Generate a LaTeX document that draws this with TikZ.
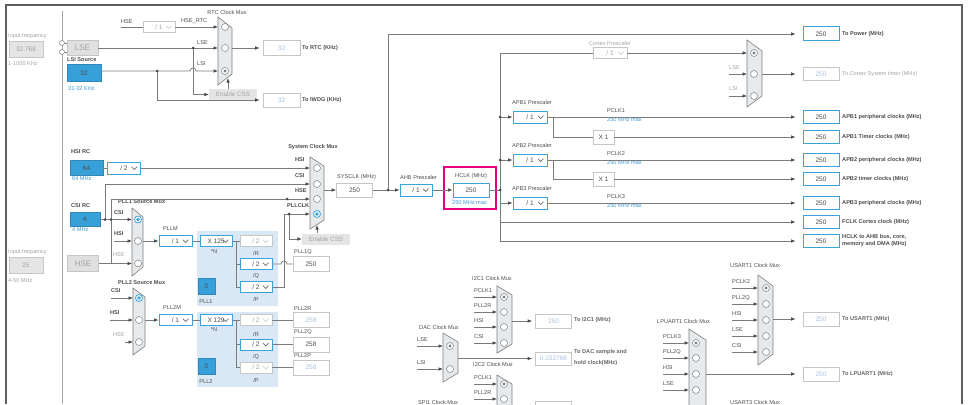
\documentclass[tikz,border=0pt]{standalone}
\usepackage{fontspec}
\setmainfont{Liberation Sans}
\usetikzlibrary{arrows.meta}

\definecolor{wirec}{HTML}{7B7B7B}
\definecolor{tipc}{HTML}{4A4A4A}
\definecolor{blueb}{HTML}{3BA3DC}
\definecolor{bluef}{HTML}{38A0D8}
\definecolor{bluet}{HTML}{3C9AD5}
\definecolor{labc}{HTML}{4D4D4D}
\definecolor{greyb}{HTML}{C6C6C6}
\definecolor{greyt}{HTML}{A4A4A4}
\definecolor{muxf}{HTML}{E6EAED}
\definecolor{muxd}{HTML}{7E7E7E}
\definecolor{pllbg}{HTML}{DAE8F5}
\definecolor{hil}{HTML}{E5007E}
\definecolor{offt}{HTML}{A8C4E2}
\definecolor{framec}{HTML}{5F5F5F}

% mux body: name, left x, top y, bottom y, width, slope
\newcommand{\clkmux}[6]{%
  \draw[muxbody] (#2,#3) -- (#2+#5,#3+#6) -- (#2+#5,#4-#6) -- (#2,#4) -- cycle;
  \coordinate (#1) at (#2,#3);
  \coordinate (#1-r) at (#2+#5,#3);}
\newcommand{\jdot}[1]{\fill[tipc] (#1) circle (1.5pt);}

\begin{document}
\begin{tikzpicture}
                \tikzset{x=1pt, y=-1pt}
                \tikzstyle{wire}=[draw=wirec, line width=0.7pt]
                \tikzstyle{arr}=[wire, -{Latex[length=4.5pt,width=3.6pt,color=tipc]}]
                \tikzstyle{tobox}=[arr, shorten >=3pt]
                \tikzstyle{toout}=[arr, shorten >=7pt]
                \tikzstyle{lbl}=[inner sep=0pt, anchor=west, text=labc, font=\fontsize{5.6}{6.6}\selectfont]
                \tikzstyle{lblb}=[lbl, font=\fontsize{5.6}{6.6}\selectfont\bfseries]
                \tikzstyle{lblg}=[lbl, text=greyt]
                \tikzstyle{lblbl}=[lbl, text=bluet]
                \tikzstyle{ctr}=[lbl, anchor=center]
                \tikzstyle{outl}=[lblb, text=black!60]
                \tikzstyle{val}=[rectangle, draw=greyb, line width=0.7pt, fill=white, minimum width=36pt, minimum height=14pt, inner sep=0pt, text=labc, font=\fontsize{6.5}{7.5}\selectfont]
                \tikzstyle{valon}=[val, draw=blueb, line width=1pt]
                \tikzstyle{valoff}=[val, text=offt]
                \tikzstyle{presc}=[rectangle, draw=blueb, line width=1pt, fill=white, minimum width=33pt, minimum height=11pt, inner sep=0pt, text=labc, font=\fontsize{6.5}{7.5}\selectfont,
                    path picture={\draw[labc, line width=0.5pt] ([xshift=-9pt,yshift=1.3pt]path picture bounding box.east) -- ++(2.8pt,-2.8pt) -- ++(2.8pt,2.8pt);}]
                \tikzstyle{prescoff}=[presc, draw=greyb, line width=0.7pt, text=greyt,
                    path picture={\draw[greyb, line width=0.5pt] ([xshift=-9pt,yshift=1.3pt]path picture bounding box.east) -- ++(2.8pt,-2.8pt) -- ++(2.8pt,2.8pt);}]
                \tikzstyle{srcbox}=[rectangle, draw=greyb, fill=black!12, text=greyt, minimum width=31pt, minimum height=15pt, inner sep=0pt, font=\fontsize{8}{9}\selectfont]
                \tikzstyle{infbox}=[rectangle, draw=greyb, fill=black!10, text=greyt, minimum width=34pt, minimum height=16pt, inner sep=0pt, font=\fontsize{6.5}{7.5}\selectfont]
                \tikzstyle{rc}=[rectangle, draw=bluef!85!black, fill=bluef, text=labc, minimum height=15pt, inner sep=0pt, font=\fontsize{6.5}{7.5}\selectfont]
                \tikzstyle{css}=[rectangle, fill=black!10, text=greyt, minimum width=48pt, minimum height=11pt, inner sep=0pt, font=\fontsize{6.3}{7.3}\selectfont]
                \tikzstyle{muxbody}=[draw=muxd, fill=muxf, line width=0.6pt]
                \tikzstyle{circ}=[circle, draw=muxd, fill=white, line width=0.5pt, minimum size=7pt, inner sep=0pt]
                \tikzstyle{selg}=[circ, path picture={\fill[muxd] (path picture bounding box.center) circle (1.6pt);}]
                \tikzstyle{selb}=[circ, draw=blueb, line width=0.8pt, path picture={\fill[blueb] (path picture bounding box.center) circle (1.8pt);}]

                \useasboundingbox (0,0) rectangle (973,404);
                \clip (0,0) rectangle (973,404);
                \fill[white] (0,0) rectangle (973,404);
                \draw[framec, line width=2pt] (6,404) -- (6,5) -- (962,5) -- (962,404);
                \draw[black!35, line width=1pt] (62,11) -- (62,404);

                % input frequencies
                \draw (8,36)      node[lblg]    (inf1)    {Input frequency};
                \draw (26,49)     node[infbox]  (lsefq)   {32.768};
                \draw (8,64)      node[lblg]    (lserng)  {1-1000 KHz};
                \draw (8,252)     node[lblg]    (inf2)    {Input frequency};
                \draw (26,265)    node[infbox]  (hsefq)   {25};
                \draw (8,281)     node[lblg]    (hserng)  {4-50 MHz};

                % LSE, LSI and RTC mux
                \draw (62,43)     node[circ, minimum size=5pt] (lsep1) {};
                \draw (62,52)     node[circ, minimum size=5pt] (lsep2) {};
                \draw (82.5,48)   node[srcbox]  (lse)     {LSE};
                \draw (67,60)     node[lblb]    (lsisrc)  {LSI Source};
                \draw (84,73)     node[rc, minimum width=34pt, minimum height=17pt] (lsi) {32};
                \draw (68,89)     node[lblbl]   (lsirng)  {31-32 KHz};
                \draw[wire] (lsep1) -- (lsep1 -| lse.west);
                \draw[wire] (lsep2) -- (lsep2 -| lse.west);

                \draw (227,12)    node[ctr]     (rtct)    {RTC Clock Mux};
                \clkmux{rtcm}{218}{17}{85}{14}{11}
                \draw (225,27)    node[circ]    (rtc1)    {};
                \draw (225,48)    node[circ]    (rtc2)    {};
                \draw (225,71)    node[selg]    (rtc3)    {};
                \draw (121,22)    node[lbl]     (hsel)    {HSE};
                \draw (159,27)    node[prescoff, minimum width=32pt] (rtcdiv) {/ 1\hspace{8pt}};
                \draw (181,21)    node[lbl]     (hsertc)  {HSE\_RTC};
                \draw (197,43)    node[lbl]     (lsel)    {LSE};
                \draw (197,64)    node[lbl]     (lsil)    {LSI};
                \draw (233,94.5)  node[css]     (css1)    {Enable CSS};
                \draw (281.5,48)  node[valoff, minimum width=37pt, minimum height=15pt] (rtco) {32};
                \draw (281.5,100) node[valoff, minimum width=37pt] (iwdg) {32};
                \draw (302,48)    node[lblb]    (rtcol)   {To RTC (KHz)};
                \draw (302,100)   node[lblb]    (iwdgl)   {To IWDG (KHz)};
                \coordinate (lsej) at (193,48);
                \coordinate (lsij) at (157,71);
                \coordinate (rtcb) at (228,78);
                \draw[wire] (hsel.west |- rtcdiv.west) -- (rtcdiv.west);
                \draw[arr] (rtcdiv.east) -- (rtc1 -| rtcm);
                \draw[arr] (lse.east |- rtc2) -- (rtc2 -| rtcm);
                \draw[arr] (lsi.east |- rtc3) -- (190,71) arc (180:360:3) -- (rtc3 -| rtcm);
                \draw[arr] (lsej) |- (css1.west);
                \draw[tobox] (lsij) |- (iwdg.west);
                \draw[tobox] (rtco.west -| rtcm-r) -- (rtco.west);
                \draw[arr] (css1.north -| rtcb) -- (rtcb);
                \jdot{lsej} \jdot{lsij}

                % HSI, CSI, HSE
                \draw (71,152)    node[lblb]    (hsirc)   {HSI RC};
                \draw (86.5,168)  node[rc, minimum width=33pt] (hsi) {64};
                \draw (72,179)    node[lblbl]   (hsimhz)  {64 MHz};
                \draw (124,168)   node[presc, minimum height=12pt] (hsidiv) {/ 2\hspace{8pt}};
                \draw (71,206)    node[lblb]    (csirc)   {CSI RC};
                \draw (85,219.5)  node[rc, minimum width=30pt, minimum height=14pt] (csi) {4};
                \draw (72,230)    node[lblbl]   (csimhz)  {4 MHz};
                \draw (83,263.5)  node[srcbox, minimum height=16pt] (hse) {HSE};
                \draw[wire] (hsi) -- (hsidiv);

                % system clock mux
                \draw (313,147)   node[ctr, font=\fontsize{5.6}{6.6}\selectfont\bfseries] (syst) {System Clock Mux};
                \clkmux{sysm}{310}{157}{229}{14}{9}
                \draw (317,168)   node[circ]    (sys1)    {};
                \draw (317,184)   node[circ]    (sys2)    {};
                \draw (317,199)   node[circ]    (sys3)    {};
                \draw (317,214)   node[selb]    (sys4)    {};
                \draw (295,160)   node[lblb]    (sysl1)   {HSI};
                \draw (295,176)   node[lblb]    (sysl2)   {CSI};
                \draw (295,191)   node[lblb]    (sysl3)   {HSE};
                \draw (287,206)   node[lblb]    (sysl4)   {PLLCLK};

                % PLL1 source mux
                \draw (118,202)   node[lblb]    (pll1t)   {PLL1 Source Mux};
                \clkmux{pll1m}{132}{208}{276}{11}{9}
                \draw (138,219.5) node[selb]    (pl1c1)   {};
                \draw (138,241)   node[circ]    (pl1c2)   {};
                \draw (138,263.5) node[circ]    (pl1c3)   {};
                \draw (114,213)   node[lblb]    (pl1l1)   {CSI};
                \draw (114,234)   node[lblb]    (pl1l2)   {HSI};
                \draw (113,255)   node[lblg]    (pl1l3)   {HSE};
                \coordinate (csij1) at (105,219.5);
                \coordinate (csij2) at (111,219.5);
                \coordinate (hsej)  at (111,263.5);
                \coordinate (hsed)  at (287,199);
                \draw[arr] (hsidiv.east) -- (sys1 -| sysm);
                \draw[arr] (csi.east) -- (pl1c1 -| pll1m);
                \draw[arr] (csij1) |- (sys2 -| sysm);
                \draw[arr] (hse.east) -- (pl1c3 -| pll1m);
                \draw[arr] (hsej) |- (sys3 -| sysm);
                \draw[arr] (pl1l2.west |- pl1c2) -- (pl1c2 -| pll1m);
                \jdot{csij1} \jdot{csij2} \jdot{hsed}

                % PLL1
                \fill[pllbg] (197,231) rectangle (278,306);
                \draw (163,229)   node[lbl]     (pllml)   {PLLM};
                \draw (175.5,241) node[presc]   (pllm)    {/ 1\hspace{8pt}};
                \draw (216,241)   node[presc, minimum width=32pt] (n1) {X 125\hspace{10pt}};
                \draw (214,252)   node[ctr]     (n1l)     {*N};
                \draw (256,241)   node[prescoff, minimum width=32pt] (r1) {/ 2\hspace{8pt}};
                \draw (256,264)   node[presc, minimum width=32pt] (q1) {/ 2\hspace{8pt}};
                \draw (256,287)   node[presc, minimum width=32pt] (p1) {/ 2\hspace{8pt}};
                \draw (256,253)   node[ctr]     (r1l)     {/R};
                \draw (256,276)   node[ctr]     (q1l)     {/Q};
                \draw (256,299)   node[ctr]     (p1l)     {/P};
                \draw (206.5,286) node[rc, minimum width=17pt, minimum height=16pt] (pll1on) {0};
                \draw (206,302)   node[ctr]     (pll1l)   {PLL1};
                \draw (311,264)   node[val, minimum height=15pt] (pll1q) {250};
                \draw (294,252)   node[lbl]     (pll1ql)  {PLL1Q};
                \draw (326,239)   node[css]     (css2)    {Enable CSS};
                \coordinate (n1j)  at (236,241);
                \coordinate (pcol) at (284,214);
                \coordinate (cssj) at (289,214);
                \coordinate (sysb) at (317,225);
                \draw[arr] (pl1c2 -| pll1m-r) -- (pllm.west);
                \draw[wire] (pllm.east) -- (n1.west);
                \draw[wire] (n1.east) -- (r1.west);
                \draw[wire] (n1j) |- (p1.west);
                \draw[wire] (n1j |- q1) -- (q1.west);
                \draw[wire] (q1.east) -- (281,264) arc (180:360:3) -- (pll1q.west);
                \draw[arr] (p1.east) -| (pcol) -- (sys4 -| sysm);
                \draw[arr] (cssj) |- (css2.west);
                \draw[arr] (css2.north -| sysb) -- (sysb);
                \jdot{cssj}

                % PLL2 source mux
                \draw (118,283)   node[lblb]    (pll2t)   {PLL2 Source Mux};
                \clkmux{pll2m}{133}{288}{355}{12}{9}
                \draw (139,298)   node[selb]    (pl2c1)   {};
                \draw (139,320)   node[circ]    (pl2c2)   {};
                \draw (139,342)   node[circ]    (pl2c3)   {};
                \draw (111,291)   node[lblb]    (pl2l1)   {CSI};
                \draw (110,313)   node[lblb]    (pl2l2)   {HSI};
                \draw (113,335)   node[lblg]    (pl2l3)   {HSE};
                \draw[arr] (pl2l1.west |- pl2c1) -- (pl2c1 -| pll2m);
                \draw[arr] (pl2l2.west |- pl2c2) -- (pl2c2 -| pll2m);
                \draw[arr] ([xshift=12pt]pl2l3.west |- pl2c3) -- (pl2c3 -| pll2m);

                % PLL2
                \fill[pllbg] (197,312) rectangle (278,387);
                \draw (163,308)   node[lbl]     (pll2ml)  {PLL2M};
                \draw (175.5,320) node[presc]   (pll2md)  {/ 1\hspace{8pt}};
                \draw (216,320)   node[presc, minimum width=32pt] (n2) {X 129\hspace{10pt}};
                \draw (214,330)   node[ctr]     (n2l)     {*N};
                \draw (256,320)   node[prescoff, minimum width=32pt] (r2) {/ 2\hspace{8pt}};
                \draw (256,344.5) node[presc, minimum width=32pt] (q2) {/ 2\hspace{8pt}};
                \draw (256,367.5) node[prescoff, minimum width=32pt] (p2) {/ 2\hspace{8pt}};
                \draw (256,334)   node[ctr]     (r2l)     {/R};
                \draw (256,357)   node[ctr]     (q2l)     {/Q};
                \draw (256,380)   node[ctr]     (p2l)     {/P};
                \draw (206.5,366.5) node[rc, minimum width=17pt, minimum height=16pt] (pll2on) {0};
                \draw (206,382)   node[ctr]     (pll2l)   {PLL2};
                \draw (311,320)   node[valoff, minimum height=15pt] (pll2r) {258};
                \draw (311,344.5) node[val, minimum height=15pt] (pll2q) {258};
                \draw (311,367.5) node[valoff, minimum height=15pt] (pll2p) {258};
                \draw (294,309)   node[lbl]     (pll2rl)  {PLL2R};
                \draw (294,332)   node[lbl]     (pll2ql)  {PLL2Q};
                \draw (294,356)   node[lbl]     (pll2pl)  {PLL2P};
                \coordinate (n2j) at (236,320);
                \draw[arr] (pl2c2 -| pll2m-r) -- (pll2md.west);
                \draw[wire] (pll2md.east) -- (n2.west);
                \draw[wire] (n2.east) -- (r2.west);
                \draw[wire] (n2j) |- (p2.west);
                \draw[wire] (n2j |- q2) -- (q2.west);
                \draw[wire] (r2.east) -- (pll2r.west);
                \draw[wire] (q2.east) -- (pll2q.west);
                \draw[wire] (p2.east) -- (pll2p.west);

                % SYSCLK, AHB, HCLK
                \draw (337,177)   node[lbl]     (sysclkl) {SYSCLK (MHz)};
                \draw (354.5,190) node[val]     (sysclk)  {250};
                \draw (400,177)   node[lbl]     (ahbl)    {AHB Prescaler};
                \draw (416,190)   node[presc, minimum width=32pt, minimum height=12pt] (ahb) {/ 1\hspace{8pt}};
                \draw (455,176)   node[lbl]     (hclkl)   {HCLK (MHz)};
                \draw (471,190)   node[valon]   (hclk)    {250};
                \draw (452,203)   node[lblbl]   (hclkmax) {250 MHz max};
                \draw[hil, line width=2.5pt] (444,167) rectangle (496,209);
                \draw (821,34)    node[valon]   (power)   {250};
                \draw (842,34)    node[lblb]    (powerl)  {To Power (MHz)};
                \coordinate (sysj) at (388,190);
                \coordinate (busj) at (500,190);
                \coordinate (bust) at (500,53);
                \coordinate (busb) at (500,241);
                \draw[arr] (sysclk.west -| sysm-r) -- (sysclk.west);
                \draw[arr] (sysclk.east) -- (ahb.west);
                \draw[toout] (sysj) |- (power.west);
                \draw[arr] (ahb.east) -- (hclk.west);
                \draw[wire] (hclk.east) -- (busj);
                \draw[wire] (bust) -- (busb);
                \jdot{sysj} \jdot{busj}

                % Cortex
                \draw (610,43)    node[ctr, text=greyt] (ctxl) {Cortex Prescaler};
                \draw (610,53)    node[prescoff, minimum width=34pt] (ctxdiv) {/ 1\hspace{8pt}};
                \clkmux{ctxm}{747}{40}{107}{15}{11}
                \draw (754,53)    node[selg]    (cx1)     {};
                \draw (754,74)    node[circ]    (cx2)     {};
                \draw (754,96)    node[circ]    (cx3)     {};
                \draw (729,68)    node[lblg]    (cxl2)    {LSE};
                \draw (729,89)    node[lblg]    (cxl3)    {LSI};
                \draw (821,74)    node[valoff, minimum height=13pt] (systick) {250};
                \draw (842,74)    node[lblg]    (systickl) {To Cortex System timer (MHz)};
                \draw[wire] (bust) -- (ctxdiv.west);
                \draw[arr] (ctxdiv.east) -- (cx1 -| ctxm);
                \draw[arr] (cxl2.west |- cx2) -- (cx2 -| ctxm);
                \draw[arr] (cxl3.west |- cx3) -- (cx3 -| ctxm);
                \draw[toout] (systick.west -| ctxm-r) -- (systick.west);

                % APB prescalers
                \draw (512,102)   node[lbl]     (apb1l)   {APB1 Prescaler};
                \draw (530,117)   node[presc, minimum width=34pt, minimum height=12pt] (apb1) {/ 1\hspace{8pt}};
                \draw (607,111)   node[lbl]     (pclk1)   {PCLK1};
                \draw (607,120)   node[lblbl]   (pclk1m)  {250 MHz max};
                \draw (603.5,137) node[val, minimum width=21pt] (tim1) {X 1};
                \draw (512,145)   node[lbl]     (apb2l)   {APB2 Prescaler};
                \draw (530,160)   node[presc, minimum width=34pt, minimum height=12pt] (apb2) {/ 1\hspace{8pt}};
                \draw (607,154)   node[lbl]     (pclk2)   {PCLK2};
                \draw (607,163)   node[lblbl]   (pclk2m)  {250 MHz max};
                \draw (603.5,179) node[val, minimum width=21pt] (tim2) {X 1};
                \draw (512,188)   node[lbl]     (apb3l)   {APB3 Prescaler};
                \draw (530,203)   node[presc, minimum width=34pt, minimum height=12pt] (apb3) {/ 1\hspace{8pt}};
                \draw (607,197)   node[lbl]     (pclk3)   {PCLK3};
                \draw (607,206)   node[lblbl]   (pclk3m)  {250 MHz max};

                \draw (821,117)   node[valon, minimum height=13pt] (apb1p) {250};
                \draw (821,137)   node[valon, minimum height=13pt] (apb1t) {250};
                \draw (821,160)   node[valon, minimum height=13pt] (apb2p) {250};
                \draw (821,179)   node[valon, minimum height=13pt] (apb2t) {250};
                \draw (821,203)   node[valon, minimum height=13pt] (apb3p) {250};
                \draw (821,222)   node[valon, minimum height=13pt] (fclk)  {250};
                \draw (821,241)   node[valon, minimum height=13pt] (ahbo)  {250};
                \draw (842,117)   node[lblb]    (apb1pl)  {APB1 peripheral clocks (MHz)};
                \draw (842,137)   node[lblb]    (apb1tl)  {APB1 Timer clocks (MHz)};
                \draw (842,160)   node[lblb]    (apb2pl)  {APB2 peripheral clocks (MHz)};
                \draw (842,179)   node[lblb]    (apb2tl)  {APB2 timer clocks (MHz)};
                \draw (842,203)   node[lblb]    (apb3pl)  {APB3 peripheral clocks (MHz)};
                \draw (842,222)   node[lblb]    (fclkl)   {FCLK Cortex clock (MHz)};
                \draw (842,240.5) node[lblb, align=left, font=\fontsize{5.6}{7}\selectfont\bfseries] (ahbol) {HCLK to AHB bus, core,\\memory and DMA (MHz)};

                \coordinate (bus1) at (500,117);
                \coordinate (bus2) at (500,160);
                \coordinate (apb1j) at (553,117);
                \coordinate (apb2j) at (553,160);
                \draw[arr] (bus1) -- (apb1.west);
                \draw[arr] (bus2) -- (apb2.west);
                \draw[arr] (bust |- apb3) -- (apb3.west);
                \draw[toout] (apb1.east) -- (apb1p.west);
                \draw[toout] (apb2.east) -- (apb2p.west);
                \draw[toout] (apb3.east) -- (apb3p.west);
                \draw[wire] (apb1j) |- (tim1.west);
                \draw[wire] (apb2j) |- (tim2.west);
                \draw[toout] (tim1.east) -- (apb1t.west);
                \draw[toout] (tim2.east) -- (apb2t.west);
                \draw[toout] (bust |- fclk) -- (fclk.west);
                \draw[toout] (busb) -- (ahbo.west);
                \jdot{bus1} \jdot{bus2}

                % peripheral muxes
                \draw (472,278)   node[lbl]     (i2c1t)   {I2C1 Clock Mux};
                \clkmux{i2c1m}{497}{286}{353}{15}{9}
                \draw (504,297)   node[selg]    (ia1)     {};
                \draw (504,312)   node[circ]    (ia2)     {};
                \draw (504,327)   node[circ]    (ia3)     {};
                \draw (504,343)   node[circ]    (ia4)     {};
                \draw (474,291)   node[lbl]     (ial1)    {PCLK1};
                \draw (474,306)   node[lbl]     (ial2)    {PLL2R};
                \draw (474,321)   node[lbl]     (ial3)    {HSI};
                \draw (474,337)   node[lbl]     (ial4)    {CSI};
                \draw (553.5,321) node[valoff]  (i2c1o)   {250};
                \draw (574,320)   node[outl]    (i2c1ol)  {To I2C1 (MHz)};
                \draw[arr] (ial1.west |- ia1) -- (ia1 -| i2c1m);
                \draw[arr] (ial2.west |- ia2) -- (ia2 -| i2c1m);
                \draw[arr] (ial3.west |- ia3) -- (ia3 -| i2c1m);
                \draw[arr] (ial4.west |- ia4) -- (ia4 -| i2c1m);
                \draw[tobox] (i2c1o.west -| i2c1m-r) -- (i2c1o.west);

                \draw (419,327)   node[lbl]     (dact)    {DAC Clock Mux};
                \clkmux{dacm}{443}{333}{382}{15}{9}
                \draw (450,346)   node[selg]    (da1)     {};
                \draw (450,369)   node[circ]    (da2)     {};
                \draw (417,340)   node[lbl]     (dal1)    {LSE};
                \draw (417,363)   node[lbl]     (dal2)    {LSI};
                \draw (553.5,358.5) node[valoff, minimum height=13pt] (daco) {0.032768};
                \draw (574,357.5) node[outl, align=left, font=\fontsize{5.6}{10.5}\selectfont\bfseries] (dacol) {To DAC sample and\\hold clock(MHz)};
                \draw[arr] (dal1.west |- da1) -- (da1 -| dacm);
                \draw[arr] (dal2.west |- da2) -- (da2 -| dacm);
                \draw[tobox] (daco.west -| dacm-r) -- (daco.west);

                \draw (473,364)   node[lbl]     (i2c2t)   {I2C2 Clock Mux};
                \clkmux{i2c2m}{497}{375}{445}{15}{9}
                \draw (504,384)   node[selg]    (ib1)     {};
                \draw (504,399)   node[circ]    (ib2)     {};
                \draw (474,378)   node[lbl]     (ibl1)    {PCLK1};
                \draw (474,393)   node[lbl]     (ibl2)    {PLL2R};
                \draw (553.5,408) node[valoff]  (i2c2o)   {};
                \draw[arr] (ibl1.west |- ib1) -- (ib1 -| i2c2m);
                \draw[arr] (ibl2.west |- ib2) -- (ib2 -| i2c2m);
                \draw (418,402)   node[lbl]     (spi1t)   {SPI1 Clock Mux};

                \draw (657,321)   node[lbl]     (lpt)     {LPUART1 Clock Mux};
                \clkmux{lpm}{689}{329}{420}{17}{11}
                \draw (696,343)   node[selg]    (lp1)     {};
                \draw (696,358)   node[circ]    (lp2)     {};
                \draw (696,374)   node[circ]    (lp3)     {};
                \draw (696,390)   node[circ]    (lp4)     {};
                \draw (663,337)   node[lbl]     (lpl1)    {PCLK3};
                \draw (663,352)   node[lbl]     (lpl2)    {PLL2Q};
                \draw (663,368)   node[lbl]     (lpl3)    {HSI};
                \draw (663,384)   node[lbl]     (lpl4)    {LSE};
                \draw (821,374)   node[valoff]  (lpo)     {250};
                \draw (842,374)   node[outl]    (lpol)    {To LPUART1 (MHz)};
                \draw[arr] (lpl1.west |- lp1) -- (lp1 -| lpm);
                \draw[arr] (lpl2.west |- lp2) -- (lp2 -| lpm);
                \draw[arr] (lpl3.west |- lp3) -- (lp3 -| lpm);
                \draw[arr] (lpl4.west |- lp4) -- (lp4 -| lpm);
                \draw[toout] (lpo.west -| lpm-r) -- (lpo.west);

                \draw (730,265)   node[lbl]     (ust)     {USART1 Clock Mux};
                \clkmux{usm}{758}{275}{365}{15}{11}
                \draw (766,288)   node[selg]    (us1)     {};
                \draw (766,304)   node[circ]    (us2)     {};
                \draw (766,320)   node[circ]    (us3)     {};
                \draw (766,336)   node[circ]    (us4)     {};
                \draw (766,352)   node[circ]    (us5)     {};
                \draw (732,282)   node[lbl]     (usl1)    {PCLK2};
                \draw (732,298)   node[lbl]     (usl2)    {PLL2Q};
                \draw (732,314)   node[lbl]     (usl3)    {HSI};
                \draw (732,330)   node[lbl]     (usl4)    {LSE};
                \draw (732,346)   node[lbl]     (usl5)    {CSI};
                \draw (821,319)   node[valoff]  (uso)     {250};
                \draw (842,319)   node[outl]    (usol)    {To USART1 (MHz)};
                \draw[arr] (usl1.west |- us1) -- (us1 -| usm);
                \draw[arr] (usl2.west |- us2) -- (us2 -| usm);
                \draw[arr] (usl3.west |- us3) -- (us3 -| usm);
                \draw[arr] (usl4.west |- us4) -- (us4 -| usm);
                \draw[arr] (usl5.west |- us5) -- (us5 -| usm);
                \draw[toout] (uso.west -| usm-r) -- (uso.west);
                \draw (730,402)   node[lbl]     (us3t)    {USART3 Clock Mux};
            \end{tikzpicture}
\end{document}
